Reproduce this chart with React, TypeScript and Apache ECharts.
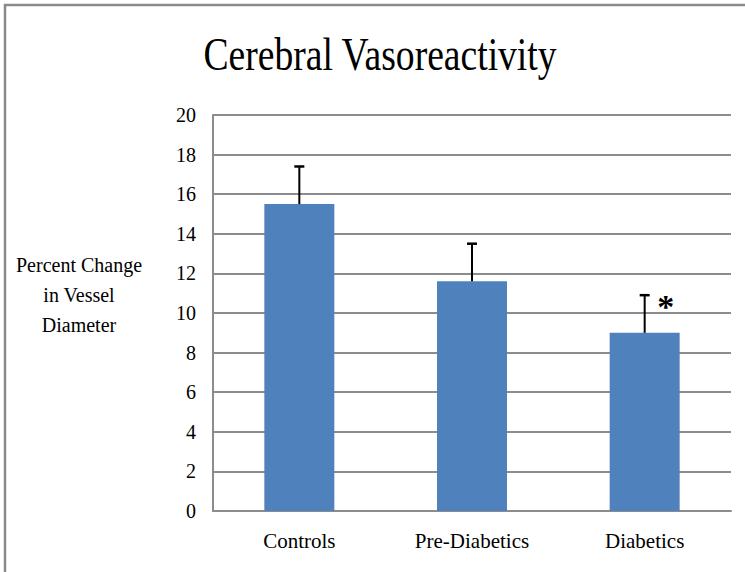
import React, { useEffect, useRef } from "react";
import * as echarts from "echarts";

const categories = ["Controls", "Pre-Diabetics", "Diabetics"];
const means = [15.5, 11.6, 9.0];
const errors = [1.9, 1.9, 1.9];
const markers = ["", "", "*"];
const yTicks = { min: 0, max: 20, interval: 2 };
const titleText = "Cerebral Vasoreactivity";
const yName = "Percent Change\nin Vessel\nDiameter";

const FONT = "Liberation Serif";

export default function App() {
  const ref = useRef<HTMLDivElement>(null);
  useEffect(() => {
    document.body.style.margin = "0";
    if (!ref.current) return;
    const chart = echarts.init(ref.current, null, { renderer: "svg" });
    const errData = categories.map((c, i) => [i, means[i], means[i] + errors[i]]);
    chart.setOption({
      animation: false,
      backgroundColor: "#ffffff",
      textStyle: { fontFamily: FONT },
      grid: { left: 213, right: 14, top: 115, bottom: 61, containLabel: false },
      graphic: [
        {
          type: "text",
          x: 380,
          y: 77,
          scaleX: 0.8,
          style: {
            text: titleText,
            fontFamily: FONT,
            fontSize: 47,
            fill: "#000",
            align: "center",
            verticalAlign: "bottom",
          },
        },
        {
          type: "text",
          x: 79,
          y: 295,
          style: {
            text: yName,
            fontFamily: FONT,
            fontSize: 20,
            lineHeight: 30,
            fill: "#000",
            align: "center",
            verticalAlign: "middle",
          },
        },
        { type: "line", shape: { x1: 4, y1: 5, x2: 745, y2: 5 }, style: { stroke: "#8a8a8a", lineWidth: 2.5 } },
        { type: "line", shape: { x1: 5, y1: 4, x2: 5, y2: 572 }, style: { stroke: "#8a8a8a", lineWidth: 2.5 } },
      ],
      xAxis: {
        type: "category",
        data: categories,
        axisTick: { show: false },
        axisLine: { lineStyle: { color: "#8c8c8c", width: 2 } },
        axisLabel: { color: "#000", fontFamily: FONT, fontSize: 21, margin: 19 },
      },
      yAxis: {
        type: "value",
        min: yTicks.min,
        max: yTicks.max,
        interval: yTicks.interval,
        axisLine: { show: true, lineStyle: { color: "#8c8c8c", width: 2 } },
        axisTick: { show: false },
        axisLabel: { color: "#000", fontFamily: FONT, fontSize: 20, margin: 17 },
        splitLine: { lineStyle: { color: "#8c8c8c", width: 2 } },
      },
      series: [
        {
          type: "bar",
          data: means,
          barWidth: 70,
          itemStyle: { color: "#4f81bd" },
        },
        {
          type: "custom",
          data: errData,
          z: 10,
          renderItem: (params: any, api: any) => {
            const base = api.coord([api.value(0), api.value(1)]);
            const top = api.coord([api.value(0), api.value(2)]);
            const mark = markers[params.dataIndex];
            const children: any[] = [
              {
                type: "line",
                shape: { x1: base[0], y1: base[1], x2: top[0], y2: top[1] },
                style: { stroke: "#000", lineWidth: 2 },
              },
              {
                type: "line",
                shape: { x1: top[0] - 5, y1: top[1], x2: top[0] + 5, y2: top[1] },
                style: { stroke: "#000", lineWidth: 2.5 },
              },
            ];
            if (mark) {
              children.push({
                type: "text",
                x: top[0] + 21,
                y: top[1] + 28,
                style: {
                  text: mark,
                  fontFamily: FONT,
                  fontSize: 34,
                  fontWeight: "bold",
                  fill: "#000",
                  align: "center",
                  verticalAlign: "bottom",
                },
              });
            }
            return { type: "group", children };
          },
        },
      ],
    });
    return () => chart.dispose();
  }, []);
  return <div ref={ref} style={{ width: 745, height: 572 }} />;
}
